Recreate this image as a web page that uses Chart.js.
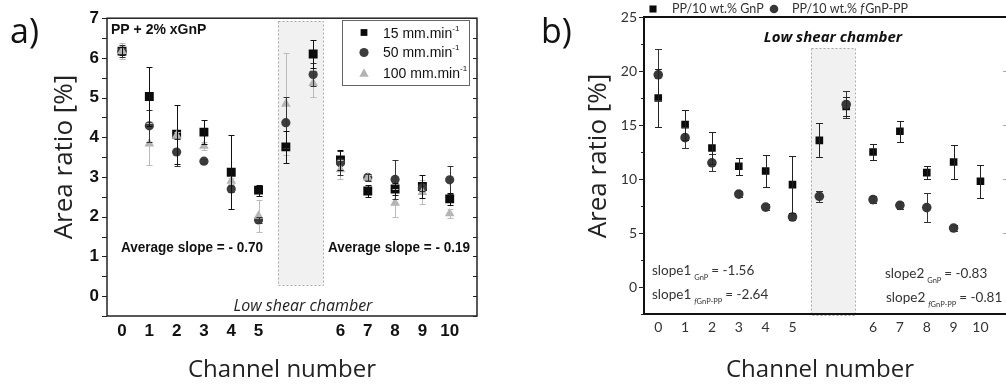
<!DOCTYPE html>
<html>
<head>
<meta charset="utf-8">
<script src="https://cdn.jsdelivr.net/npm/chart.js@4.4.1/dist/chart.umd.min.js"></script>
<style>
body { margin: 0; background: #fff; }
#wrap { position: relative; width: 1006px; height: 385px; overflow: hidden; background: #fff; }
canvas { position: absolute; top: 0; }
#chartA { left: 0; }
#chartB { left: 500px; }
</style>
</head>
<body>
<div id="wrap">
<canvas id="chartA" width="500" height="385"></canvas>
<canvas id="chartB" width="506" height="385"></canvas>
</div>
<script>
// channel slots on the x axis, the two unlabelled ones are the low shear chamber
var chanPos = [0, 1, 2, 3, 4, 5, 6, 7, 8, 9, 10, 11, 12];
var chanLabels = ['0', '1', '2', '3', '4', '5', '', '', '6', '7', '8', '9', '10'];

// a) PP + 2% xGnP, three speeds
var namesA = ['15 mm.min', '50 mm.min', '100 mm.min'];
var a15 = [6.17, 5.03, 4.08, 4.13, 3.12, 2.67, 3.76, 6.10, 3.43, 2.65, 2.70, 2.76, 2.45];
var a15Err = [0.1, 0.75, 0.74, 0.30, 0.93, 0.14, 0.40, 0.36, 0.25, 0.15, 0.15, 0.30, 0.15];
var a50 = [6.17, 4.29, 3.63, 3.40, 2.70, 1.92, 4.37, 5.58, 3.36, 2.99, 2.94, 2.73, 2.93];
var a50Err = [0.15, 0.40, 0.34, 0.05, 0.08, 0.08, 0.65, 0.30, 0.30, 0.08, 0.50, 0.08, 0.36];
var a100 = [6.17, 3.84, 4.05, 3.78, 2.90, 2.02, 4.84, 5.36, 3.19, 2.98, 2.35, 2.62, 2.08];
var a100Err = [0.21, 0.53, 0.08, 0.10, 0.08, 0.40, 1.28, 0.34, 0.25, 0.08, 0.35, 0.30, 0.12];

// b) PP/10 wt.% GnP vs fGnP-PP
var bGnP = [17.5, 15.03, 12.87, 11.18, 10.74, 9.48, 13.58, 16.73, 12.5, 14.42, 10.59, 11.57, 9.79];
var bGnPErr = [2.7, 1.4, 1.45, 0.8, 1.45, 2.65, 1.57, 0.9, 0.78, 0.95, 0.63, 1.6, 1.55];
var bF = [19.65, 13.83, 11.5, 8.6, 7.4, 6.48, 8.4, 16.9, 8.09, 7.56, 7.35, 5.46, null];
var bFErr = [2.35, 0.95, 0.8, 0.3, 0.3, 0.3, 0.5, 1.25, 0.3, 0.3, 1.35, 0.3, null];

function toPoints(vals, errs) {
    var out = [];
    vals.forEach(function (v, i) {
        if (v === null) return;
        out.push({ x: chanPos[i], y: v, e: errs[i] });
    });
    return out;
}

function isWhole(v) {
    return Math.abs(v - Math.round(v)) < 1e-6;
}

var errorBars = {
    id: 'errorBars',
    afterDatasetsDraw: function (chart) {
        var ctx = chart.ctx;
        var xs = chart.scales.x, ys = chart.scales.y;
        var cap = chart.options.plugins.errorBars.cap;
        ctx.save();
        for (var d = chart.data.datasets.length - 1; d >= 0; d--) {
            var ds = chart.data.datasets[d];
            ctx.strokeStyle = ds.errColor;
            ctx.lineWidth = 1;
            ds.data.forEach(function (p) {
                var x = Math.round(xs.getPixelForValue(p.x)) + 0.5;
                var top = Math.round(ys.getPixelForValue(p.y + p.e)) + 0.5;
                var bot = Math.round(ys.getPixelForValue(p.y - p.e)) + 0.5;
                ctx.beginPath();
                ctx.moveTo(x, top); ctx.lineTo(x, bot);
                ctx.moveTo(x - cap, top); ctx.lineTo(x + cap, top);
                ctx.moveTo(x - cap, bot); ctx.lineTo(x + cap, bot);
                ctx.stroke();
            });
        }
        ctx.restore();
    }
};

function chamber(chart, x0, x1, y0, y1) {
    var ctx = chart.ctx, xs = chart.scales.x, ys = chart.scales.y;
    var l = xs.getPixelForValue(x0), r = xs.getPixelForValue(x1);
    var t = ys.getPixelForValue(y1), b = ys.getPixelForValue(y0);
    ctx.save();
    ctx.fillStyle = '#f1f1f1';
    ctx.fillRect(l, t, r - l, b - t);
    ctx.strokeStyle = '#aaa';
    ctx.lineWidth = 1;
    ctx.setLineDash([2, 2]);
    ctx.strokeRect(Math.round(l) + 0.5, Math.round(t) + 0.5, Math.round(r - l), Math.round(b - t));
    ctx.restore();
}

function xTicks(scale) {
    scale.ticks = chanPos.map(function (v) { return { value: v }; });
}

function xLabel(v) {
    var i = chanPos.indexOf(v);
    return i < 0 ? '' : chanLabels[i];
}

// ---------- panel a ----------
var decoA = {
    id: 'decoA',
    beforeDatasetsDraw: function (chart) {
        chamber(chart, 5.72, 7.36, 0.28, 6.93);
    },
    afterDraw: function (chart) {
        var ctx = chart.ctx, ca = chart.chartArea, ys = chart.scales.y;
        ctx.save();
        ctx.strokeStyle = '#222';
        ctx.lineWidth = 1.5;
        ctx.strokeRect(ca.left, ca.top, ca.right - ca.left, ca.bottom - ca.top);
        ctx.lineWidth = 1;
        ys.ticks.forEach(function (t) {
            var y = Math.round(ys.getPixelForValue(t.value)) + 0.5;
            ctx.beginPath();
            ctx.moveTo(ca.left - 5, y); ctx.lineTo(ca.left, y);
            ctx.moveTo(ca.right - 4, y); ctx.lineTo(ca.right, y);
            ctx.stroke();
        });

        ctx.fillStyle = '#111';
        ctx.textBaseline = 'alphabetic';
        ctx.font = '34px "Open Sans"';
        ctx.textAlign = 'left';
        ctx.fillText('a)', 10, 43);

        ctx.font = 'bold 14px "Liberation Sans"';
        ctx.fillText('PP + 2% xGnP', 111, 34, 104);
        ctx.textAlign = 'center';
        ctx.fillText('Average slope = - 0.70', 192, 252, 142);
        ctx.fillText('Average slope = - 0.19', 399, 252, 142);

        ctx.font = 'italic 16px "Open Sans"';
        ctx.fillStyle = '#222';
        ctx.fillText('Low shear chamber', 303, 311);

        ctx.font = '24px "Open Sans"';
        ctx.fillText('Channel number', 282, 377);
        ctx.save();
        ctx.translate(72, 157);
        ctx.rotate(-Math.PI / 2);
        ctx.font = '26px "Open Sans"';
        ctx.fillText('Area ratio [%]', 0, 0);
        ctx.restore();

        // legend box
        ctx.strokeStyle = '#666';
        ctx.lineWidth = 1;
        ctx.strokeRect(342.5, 20.5, 127, 65);
        var rowY = [32.5, 52.5, 74];
        var baseY = [38, 57, 78];
        chart.data.datasets.forEach(function (ds, i) {
            ctx.fillStyle = ds.backgroundColor;
            Chart.helpers.drawPoint(ctx, { pointStyle: ds.pointStyle, radius: ds.legendRadius, rotation: 0, borderWidth: 0 }, 364, rowY[i]);
            ctx.fillStyle = '#111';
            ctx.textAlign = 'left';
            ctx.font = '14px "Liberation Sans"';
            ctx.fillText(namesA[i], 383, baseY[i]);
            var w = ctx.measureText(namesA[i]).width;
            ctx.font = '8px "Liberation Sans"';
            ctx.fillText('-1', 383 + w, baseY[i] - 7);
        });
        ctx.restore();
    }
};

new Chart(document.getElementById('chartA'), {
    type: 'scatter',
    data: {
        datasets: [
            { label: namesA[0], data: toPoints(a15, a15Err), pointStyle: 'rect', pointRadius: 6.3, legendRadius: 4.8,
              backgroundColor: '#0b0b0b', borderWidth: 0, errColor: '#111', order: 2 },
            { label: namesA[1], data: toPoints(a50, a50Err), pointStyle: 'circle', pointRadius: 4.6, legendRadius: 4.6,
              backgroundColor: '#3d3d3d', borderWidth: 0, errColor: '#333', order: 1 },
            { label: namesA[2], data: toPoints(a100, a100Err), pointStyle: 'triangle', pointRadius: 5.6, legendRadius: 5.4,
              backgroundColor: '#b3b3b3', borderWidth: 0, errColor: '#bbb', order: 0 }
        ]
    },
    options: {
        responsive: false,
        animation: false,
        layout: { padding: { top: 17, right: 23, left: 0, bottom: 0 } },
        plugins: { legend: { display: false }, tooltip: { enabled: false }, errorBars: { cap: 3 } },
        scales: {
            x: {
                type: 'linear', min: -0.55, max: 13,
                afterBuildTicks: xTicks,
                afterFit: function (s) { s.height = 69; },
                grid: { display: false, drawTicks: false },
                border: { display: false },
                ticks: { autoSkip: false, maxRotation: 0, padding: 5, color: '#111',
                         font: { family: 'Liberation Sans', size: 17, weight: 'bold' }, callback: xLabel }
            },
            y: {
                min: -0.5, max: 7,
                afterFit: function (s) { s.width = 107; },
                grid: { display: false, drawTicks: false },
                border: { display: false },
                ticks: { stepSize: 0.5, autoSkip: false, padding: 8, color: '#111',
                         font: { family: 'Liberation Sans', size: 17, weight: 'bold' },
                         callback: function (v) { return isWhole(v) && v >= 0 ? String(Math.round(v)) : ''; } }
            }
        }
    },
    plugins: [errorBars, decoA]
});

// ---------- panel b ----------
function subText(ctx, x, y, main, sub, rest) {
    ctx.textAlign = 'left';
    ctx.font = '13.5px Lato';
    ctx.fillText(main, x, y);
    x += ctx.measureText(main).width + 3;
    ctx.font = '7.5px Lato';
    if (sub.charAt(0) === 'f') {
        ctx.font = 'italic 7.5px Lato';
        ctx.fillText('f', x, y + 5);
        x += ctx.measureText('f').width;
        ctx.font = '7.5px Lato';
        sub = sub.slice(1);
    }
    ctx.fillText(sub, x, y + 5);
    x += ctx.measureText(sub).width + 3;
    ctx.font = '13.5px Lato';
    ctx.fillText(rest, x, y);
}

var decoB = {
    id: 'decoB',
    beforeDatasetsDraw: function (chart) {
        chamber(chart, 5.69, 7.33, -2.6, 22.1);
    },
    afterDraw: function (chart) {
        var ctx = chart.ctx, ca = chart.chartArea, ys = chart.scales.y;
        ctx.save();
        ctx.strokeStyle = '#111';
        ctx.lineWidth = 2;
        ctx.beginPath();
        ctx.moveTo(ca.left, ca.top); ctx.lineTo(506, ca.top);
        ctx.moveTo(ca.left, ca.top - 1); ctx.lineTo(ca.left, ca.bottom);
        ctx.lineTo(506, ca.bottom);
        ctx.stroke();
        ctx.lineWidth = 1;
        ctx.strokeStyle = '#222';
        ys.ticks.forEach(function (t) {
            var y = Math.round(ys.getPixelForValue(t.value)) + 0.5;
            var len = isWhole(t.value / 5) ? 5 : 3;
            ctx.beginPath();
            ctx.moveTo(ca.left - len, y); ctx.lineTo(ca.left, y);
            ctx.stroke();
            if (isWhole(t.value / 5) && t.value > 0 && t.value < 25) {
                ctx.strokeStyle = '#aaa';
                ctx.beginPath();
                ctx.moveTo(503, y); ctx.lineTo(506, y);
                ctx.stroke();
                ctx.strokeStyle = '#222';
            }
        });

        ctx.fillStyle = '#111';
        ctx.textBaseline = 'alphabetic';
        ctx.textAlign = 'left';
        ctx.font = '34px "Open Sans"';
        ctx.fillText('b)', 41, 43);

        ctx.font = 'bold italic 15px "Open Sans"';
        ctx.textAlign = 'center';
        ctx.fillText('Low shear chamber', 333, 42);

        ctx.fillStyle = '#222';
        ctx.font = '24px "Open Sans"';
        ctx.fillText('Channel number', 320, 377);
        ctx.save();
        ctx.translate(106, 156);
        ctx.rotate(-Math.PI / 2);
        ctx.font = '26px "Open Sans"';
        ctx.fillText('Area ratio [%]', 0, 0);
        ctx.restore();

        // legend on top
        var ds = chart.data.datasets;
        ctx.fillStyle = ds[0].backgroundColor;
        Chart.helpers.drawPoint(ctx, { pointStyle: 'rect', radius: 5, rotation: 0, borderWidth: 0 }, 153, 9);
        ctx.fillStyle = ds[1].backgroundColor;
        Chart.helpers.drawPoint(ctx, { pointStyle: 'circle', radius: 4.3, rotation: 0, borderWidth: 0 }, 274, 9);
        ctx.fillStyle = '#333';
        ctx.textAlign = 'left';
        ctx.font = '12.5px Lato';
        ctx.fillText('PP/10 wt.% GnP', 172, 13);
        ctx.fillText('PP/10 wt.% ', 292, 13);
        var w = ctx.measureText('PP/10 wt.% ').width;
        ctx.font = 'italic 12.5px Lato';
        ctx.fillText('f', 292 + w, 13);
        var wf = ctx.measureText('f').width;
        ctx.font = '12.5px Lato';
        ctx.fillText('GnP-PP', 292 + w + wf + 1, 13);

        ctx.fillStyle = '#333';
        subText(ctx, 152, 275, 'slope1', 'GnP', '= -1.56');
        subText(ctx, 152, 299, 'slope1', 'fGnP-PP', '= -2.64');
        subText(ctx, 385, 278, 'slope2', 'GnP', '= -0.83');
        subText(ctx, 386, 302, 'slope2', 'fGnP-PP', '= -0.81');
        ctx.restore();
    }
};

new Chart(document.getElementById('chartB'), {
    type: 'scatter',
    data: {
        datasets: [
            { label: 'PP/10 wt.% GnP', data: toPoints(bGnP, bGnPErr), pointStyle: 'rect', pointRadius: 5.4,
              backgroundColor: '#0b0b0b', borderWidth: 0, errColor: '#222', order: 1 },
            { label: 'PP/10 wt.% fGnP-PP', data: toPoints(bF, bFErr), pointStyle: 'circle', pointRadius: 4.8,
              backgroundColor: '#383838', borderWidth: 0, errColor: '#333', order: 0 }
        ]
    },
    options: {
        responsive: false,
        animation: false,
        layout: { padding: { top: 17, right: 1, left: 0, bottom: 0 } },
        plugins: { legend: { display: false }, tooltip: { enabled: false }, errorBars: { cap: 3.5 } },
        scales: {
            x: {
                type: 'linear', min: -0.53, max: 12.75,
                afterBuildTicks: xTicks,
                afterFit: function (s) { s.height = 71; },
                grid: { display: false, drawTicks: false },
                border: { display: false },
                ticks: { autoSkip: false, maxRotation: 0, padding: 5, color: '#333',
                         font: { family: 'Lato', size: 14 }, callback: xLabel }
            },
            y: {
                min: -2.5, max: 25,
                afterFit: function (s) { s.width = 144; },
                grid: { display: false, drawTicks: false },
                border: { display: false },
                ticks: { stepSize: 2.5, autoSkip: false, padding: 7, color: '#333',
                         font: { family: 'Lato', size: 14 },
                         callback: function (v) { return isWhole(v / 5) && v >= 0 ? String(Math.round(v)) : ''; } }
            }
        }
    },
    plugins: [errorBars, decoB]
});
</script>
</body>
</html>
